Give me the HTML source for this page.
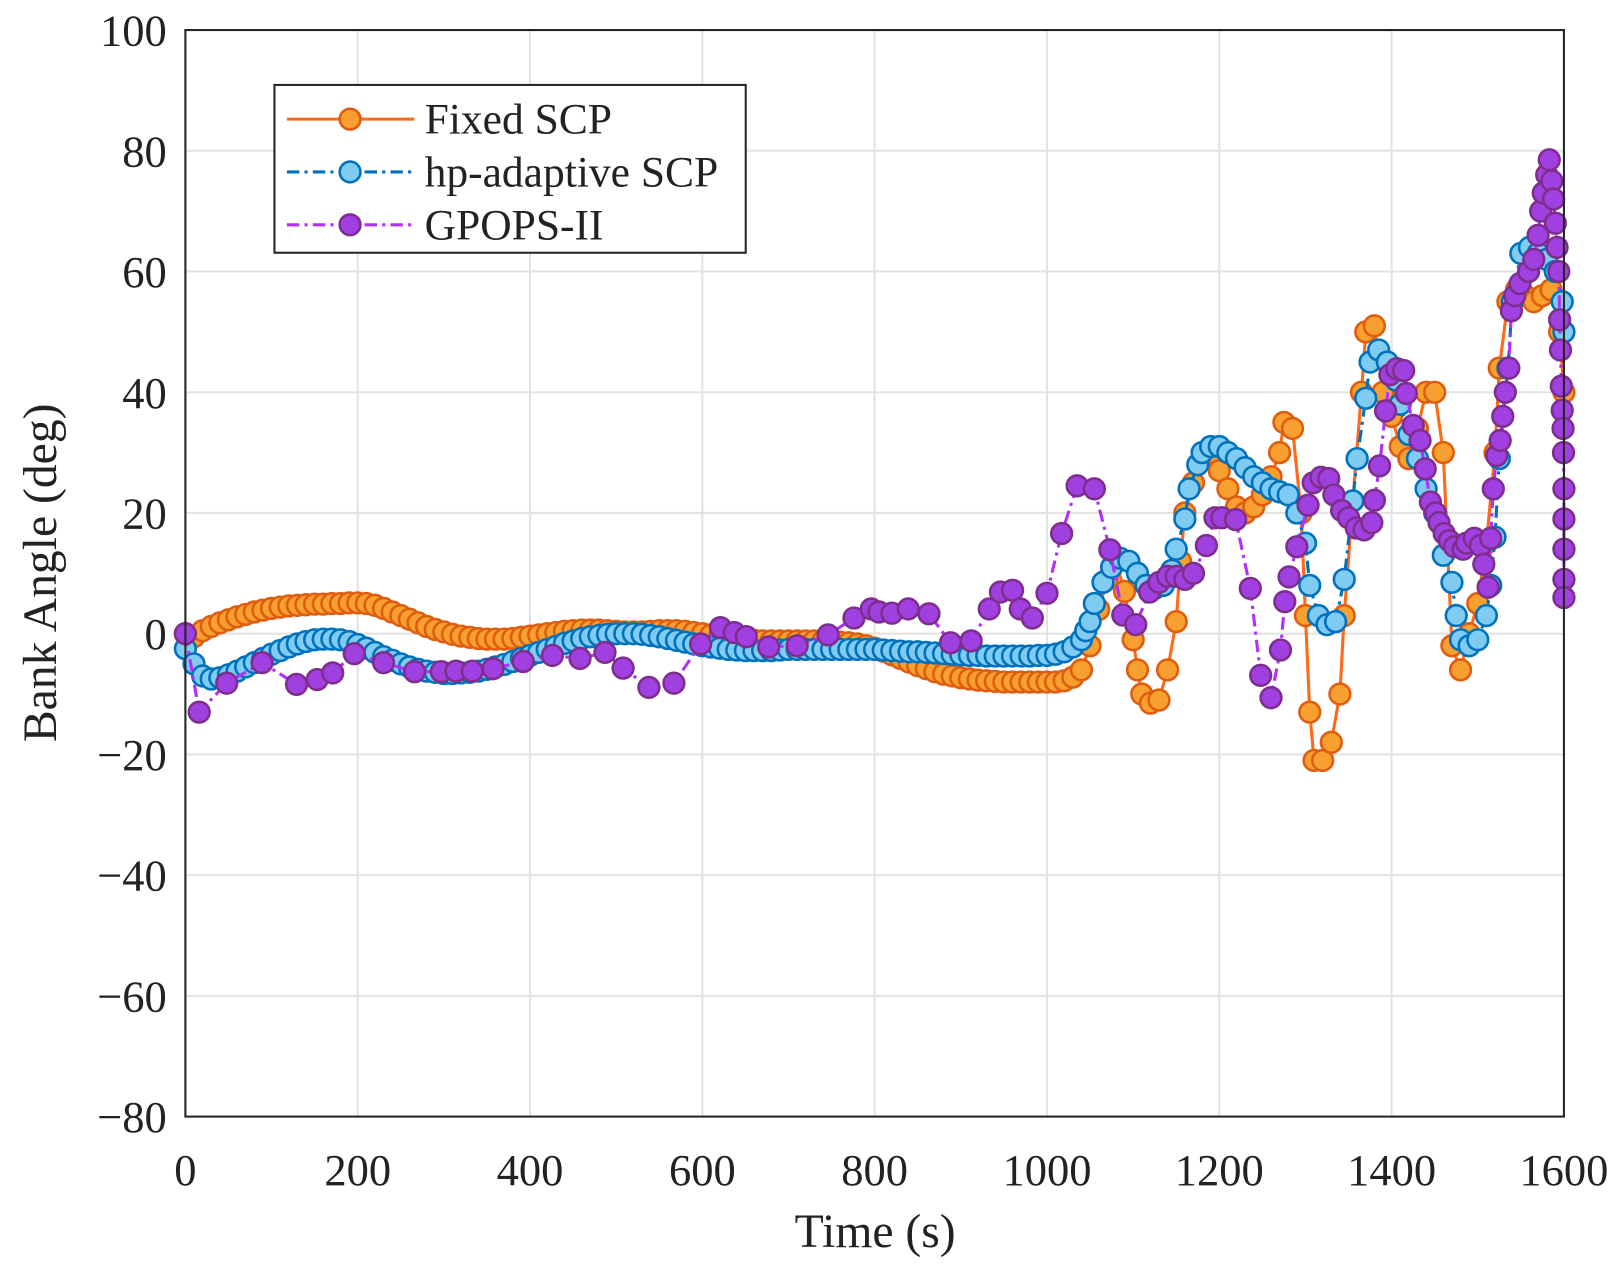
<!DOCTYPE html>
<html><head><meta charset="utf-8"><style>
html,body{margin:0;padding:0;background:#fff;}
svg text{font-family:"Liberation Serif",serif;fill:#222;}
</style></head><body>
<svg id="chart" width="1624" height="1273" viewBox="0 0 1568 1229" preserveAspectRatio="none" xmlns="http://www.w3.org/2000/svg">
<rect width="1568" height="1229" fill="#fff"/>
<g id="grid"></g>
<g id="series"></g>
<rect x="179" y="29" width="1331" height="1049" fill="none" stroke="#262626" stroke-width="2"/>
<g id="ticks"></g>
<text x="0" y="0" transform="translate(54,553) rotate(-90)" text-anchor="middle" font-size="46">Bank Angle (deg)</text>
<text x="845" y="1204" text-anchor="middle" font-size="46">Time (s)</text>
<g>
<rect x="265" y="82" width="455" height="162" fill="#fff" stroke="#262626" stroke-width="2"/>
<g>
<line x1="277" y1="115" x2="400" y2="115" stroke="#ff6a1a" stroke-width="3"/>
<circle cx="338" cy="115" r="10" fill="#f7a030" stroke="#e05d10" stroke-width="2.5"/>
<text x="410" y="129" font-size="42">Fixed SCP</text></g>
<g>
<line x1="277" y1="166" x2="400" y2="166" stroke="#0072bd" stroke-width="3" stroke-dasharray="12,5,3,5"/>
<circle cx="338" cy="166" r="10" fill="#80cbf2" stroke="#0072bd" stroke-width="2.5"/>
<text x="410" y="180" font-size="42">hp-adaptive SCP</text></g>
<g>
<line x1="277" y1="217" x2="400" y2="217" stroke="#b030ff" stroke-width="3" stroke-dasharray="12,5,3,5"/>
<circle cx="338" cy="217" r="10" fill="#a040e0" stroke="#7e2f8e" stroke-width="2.5"/>
<text x="410" y="231" font-size="42">GPOPS-II</text></g>
</g>
</svg>
<script>
const xTicks=[0,200,400,600,800,1000,1200,1400,1600];
const yTicks=[-80,-60,-40,-20,0,20,40,60,80,100];
const fixedT=[0,10,20,30,40,50,60,70,80,90,100,110,120,130,140,150,160,170,180,190,200,210,220,230,240,250,260,270,280,290,300,310,320,330,340,350,360,370,380,390,400,410,420,430,440,450,460,470,480,490,500,510,520,530,540,550,560,570,580,590,600,610,620,630,640,650,660,670,680,690,700,710,720,730,740,750,760,770,780,790,800,810,820,830,840,850,860,870,880,890,900,910,920,930,940,950,960,970,980,990,1000,1010,1020,1030,1040,1050,1060,1070,1080,1090,1100,1105,1110,1120,1130,1140,1150,1155,1160,1170,1180,1190,1200,1210,1220,1230,1240,1250,1260,1270,1275,1285,1295,1300,1305,1310,1320,1330,1340,1345,1355,1365,1370,1380,1390,1400,1410,1420,1430,1440,1450,1460,1470,1480,1490,1500,1510,1520,1525,1535,1545,1555,1565,1575,1585,1595,1600];
const fixedV=[0,-0.5,0.5,1.2,1.8,2.3,2.8,3.2,3.6,3.9,4.2,4.4,4.6,4.7,4.8,4.9,4.9,5,5,5.1,5.1,5,4.7,4.2,3.6,3,2.4,1.8,1.2,0.7,0.3,-0.1,-0.4,-0.6,-0.8,-0.9,-0.9,-0.9,-0.8,-0.6,-0.4,-0.2,0,0.2,0.4,0.5,0.6,0.6,0.6,0.5,0.4,0.3,0.3,0.3,0.4,0.5,0.5,0.5,0.4,0.2,0,-0.2,-0.4,-0.6,-0.8,-1,-1.1,-1.2,-1.2,-1.2,-1.2,-1.2,-1.2,-1.2,-1.2,-1.3,-1.4,-1.5,-1.7,-2,-2.4,-2.9,-3.5,-4.1,-4.7,-5.3,-5.8,-6.3,-6.7,-7,-7.3,-7.5,-7.7,-7.8,-7.9,-8,-8,-8,-8,-8,-8,-8,-7.8,-7.2,-6,-2,4,9,12,7,-1,-6,-10,-11.5,-11,-6,2,12,20,25,29,30,27,24,21,20,21,23,26,30,35,34,20,3,-13,-21,-21,-18,-10,3,22,40,50,51,40,36,31,29,34,40,40,30,-2,-6,0,5,15,30,44,55,57,56,55,56,57,50,40];
const hpT=[0,10,20,30,40,50,60,70,80,90,100,110,120,130,140,150,160,170,180,190,200,210,220,230,240,250,260,270,280,290,300,310,320,330,340,350,360,370,380,390,400,410,420,430,440,450,460,470,480,490,500,510,520,530,540,550,560,570,580,590,600,610,620,630,640,650,660,670,680,690,700,710,720,730,740,750,760,770,780,790,800,810,820,830,840,850,860,870,880,890,900,910,920,930,940,950,960,970,980,990,1000,1010,1020,1030,1040,1045,1050,1055,1065,1075,1085,1095,1105,1115,1125,1135,1145,1150,1160,1165,1175,1180,1190,1200,1210,1220,1230,1240,1250,1260,1270,1280,1290,1300,1305,1315,1325,1335,1345,1355,1360,1370,1375,1385,1395,1405,1410,1420,1430,1440,1450,1460,1470,1475,1480,1490,1500,1510,1515,1520,1525,1535,1540,1550,1560,1570,1580,1590,1598,1600];
const hpV=[-2.5,-5,-7,-7.5,-7.3,-6.8,-6.2,-5.5,-4.8,-4.1,-3.4,-2.8,-2.2,-1.7,-1.3,-1,-0.9,-0.9,-1,-1.3,-1.8,-2.4,-3.1,-3.8,-4.4,-5,-5.5,-5.9,-6.2,-6.4,-6.6,-6.6,-6.5,-6.4,-6.2,-5.9,-5.5,-5.1,-4.6,-4.1,-3.6,-3.1,-2.6,-2.1,-1.6,-1.2,-0.8,-0.5,-0.3,-0.1,0,0,0,-0.1,-0.3,-0.5,-0.8,-1.1,-1.4,-1.7,-2,-2.2,-2.4,-2.6,-2.7,-2.8,-2.8,-2.8,-2.8,-2.7,-2.6,-2.6,-2.6,-2.6,-2.6,-2.6,-2.6,-2.6,-2.6,-2.6,-2.6,-2.7,-2.8,-2.9,-3,-3,-3.1,-3.2,-3.3,-3.4,-3.5,-3.6,-3.6,-3.7,-3.7,-3.7,-3.7,-3.7,-3.7,-3.6,-3.6,-3.4,-3,-2.2,-1,0.5,2,5,8.5,11,12.5,12,10,8,7.5,8,10.5,14,19,24,28,30,31,31,30,29,27.5,26,25,24,23.5,23,20,15,8,3,1.5,2,9,22,29,39,45,47,45,42,38,33,29,24,20,13,8.5,3,-1,-2,-1,3,8,16,29,44,55,63,64,63,62,60,55,50];
const gpT=[0,16,48,89,129,153,171,196,230,266,297,314,333,357,392,426,458,487,508,538,567,598,621,637,651,677,710,746,776,796,805,820,839,863,888,912,933,946,960,969,983,1000,1017,1035,1055,1073,1088,1103,1119,1130,1140,1150,1160,1170,1185,1195,1203,1219,1236,1248,1260,1271,1276,1281,1290,1303,1309,1318,1327,1333,1342,1350,1359,1368,1377,1380,1386,1393,1398,1406,1414,1417,1425,1433,1439,1445,1451,1455,1461,1467,1473,1483,1487,1496,1503,1507,1512,1515,1518,1522,1526,1529,1532,1536,1539,1543,1549,1559,1565,1570,1573,1576,1580,1583,1586,1588,1590,1592,1594,1595,1596,1597,1598,1599,1599.5,1600,1600,1600,1600,1600];
const gpV=[0,-13,-8.2,-4.8,-8.4,-7.6,-6.5,-3.3,-4.8,-6.3,-6.3,-6.2,-6.2,-5.8,-4.6,-3.6,-4.1,-3.1,-5.7,-8.9,-8.2,-1.7,1,0.2,-0.5,-2.2,-2,-0.2,2.6,4.1,3.6,3.4,4.1,3.3,-1.5,-1.2,4.1,6.9,7.2,4.1,2.6,6.7,16.6,24.5,24,13.9,3.1,1.5,6.9,8.5,9.5,9.5,9,10,14.6,19.2,19.2,18.9,7.5,-6.9,-10.6,-2.7,5.3,9.4,14.4,21.3,25,25.9,25.7,23,20.4,19.2,17.5,17.2,18.4,22.1,27.8,36.9,42.9,43.9,43.6,39.8,34.5,32,27.3,21.8,20,18.4,16.6,15.4,14.4,14,15,15.8,14.6,11.5,7.7,15.8,24,29.5,32,36,40,44,53.5,56,58,60,62,66,70,73,76,78.5,75,72,68,64,60,52,47,41,37,34,30,24,19,14,9,6];

const X0=179,X1=1510,Y0=1078,Y1=29;
function xs(t){return X0+(t-0)/(1600-0)*(X1-X0);}
function ys(v){return Y0-(v+80)/(180)*(Y0-Y1);}
const NS='http://www.w3.org/2000/svg';
function mk(tag,attrs,parent){const e=document.createElementNS(NS,tag);for(const k in attrs)e.setAttribute(k,attrs[k]);parent.appendChild(e);return e;}
const grid=document.getElementById('grid'),ticks=document.getElementById('ticks'),ser=document.getElementById('series');
xTicks.forEach(t=>{
  const l=mk('line',{x1:xs(t),x2:xs(t),y1:Y1,y2:Y0,stroke:'#e3e3e3','stroke-width':2},grid);
  
  
  const tx=mk('text',{x:xs(t),y:1144,'text-anchor':'middle','font-size':43},ticks);
  tx.textContent=t;
  
  
});
yTicks.forEach(v=>{
  const l=mk('line',{x1:X0,x2:X1,y1:ys(v),y2:ys(v),stroke:'#e3e3e3','stroke-width':2},grid);
  
  
  const tx=mk('text',{x:161,y:ys(v)+15,'text-anchor':'end','font-size':43},ticks);
  tx.textContent=(v<0?'\u2212'+(-v):v);
  
  
});
function drawSeries(T,V,name,lineCol,dash,fill,edge){
  const n=Math.min(T.length,V.length);
  const g=mk('g',{},ser);
  
  
  const pts=[];
  for(let i=0;i<n;i++)pts.push(xs(T[i])+','+ys(V[i]));
  const pl=mk('polyline',{points:pts.join(' '),fill:'none',stroke:lineCol,'stroke-width':3,'stroke-dasharray':dash},g);
  
  
  for(let i=0;i<n;i++){
    const c=mk('circle',{cx:xs(T[i]),cy:ys(V[i]),r:10,fill:fill,stroke:edge,'stroke-width':2.5},g);
    
    
  }
}
drawSeries(fixedT,fixedV,'fixed-scp','#ff6a1a','none','#f7a030','#e05d10');
drawSeries(hpT,hpV,'hp-adaptive-scp','#0072bd','12,5,3,5','#80cbf2','#0072bd');
drawSeries(gpT,gpV,'gpops-ii','#b030ff','12,5,3,5','#a040e0','#7e2f8e');
</script>
</body></html>
